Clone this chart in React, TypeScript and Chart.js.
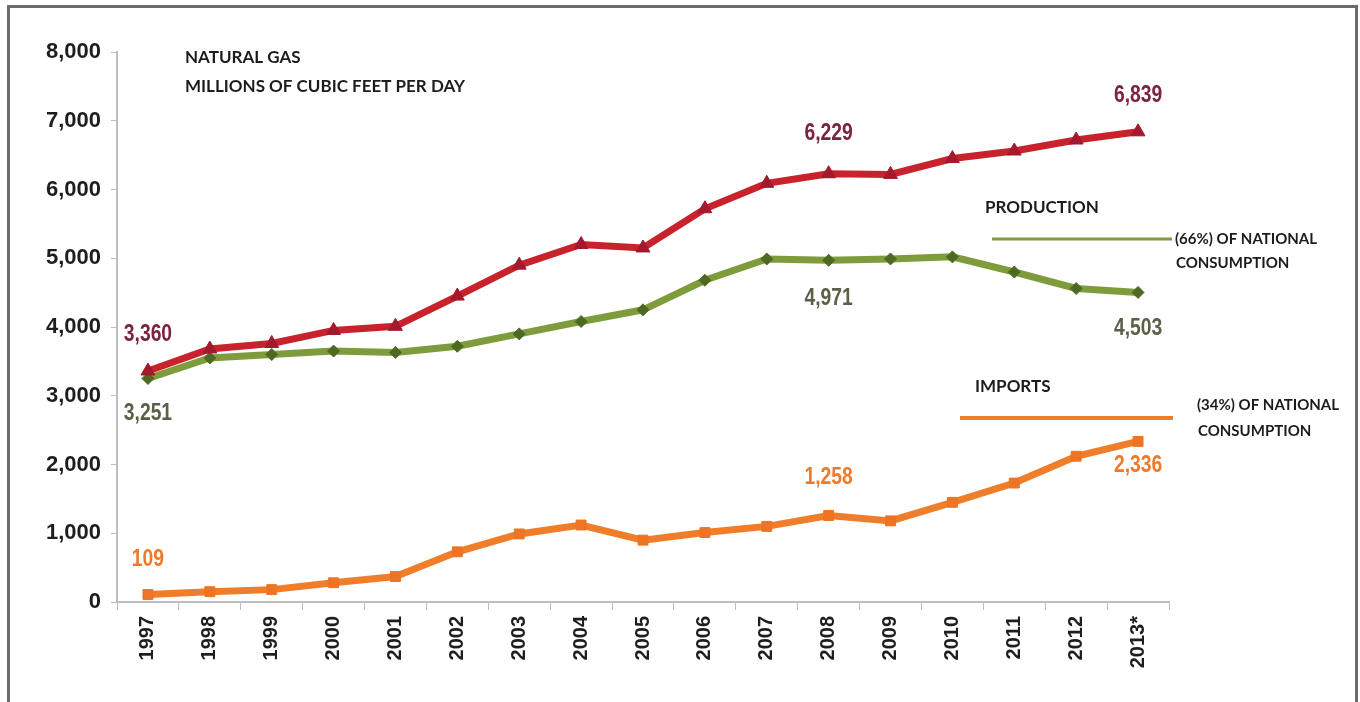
import React, { useEffect, useRef } from "react";
import { Chart, registerables } from "chart.js";

Chart.register(...registerables);

const years = ["1997", "1998", "1999", "2000", "2001", "2002", "2003", "2004", "2005", "2006", "2007", "2008", "2009", "2010", "2011", "2012", "2013*"];
const consumption = [3360, 3680, 3760, 3950, 4010, 4450, 4900, 5200, 5150, 5720, 6090, 6229, 6220, 6450, 6560, 6720, 6839];
const production = [3251, 3550, 3600, 3650, 3630, 3720, 3900, 4080, 4250, 4680, 4990, 4971, 4990, 5020, 4800, 4560, 4503];
const imports = [109, 150, 180, 280, 370, 730, 990, 1120, 900, 1010, 1100, 1258, 1180, 1450, 1730, 2120, 2336];
const labeledPoints = [0, 11, 16];
const yTicks = [0, 1000, 2000, 3000, 4000, 5000, 6000, 7000, 8000];

const titleLines = ["NATURAL GAS", "MILLIONS OF CUBIC FEET PER DAY"];
const productionNote = ["PRODUCTION", "(66%) OF NATIONAL", "CONSUMPTION"];
const importsNote = ["IMPORTS", "(34%) OF NATIONAL", "CONSUMPTION"];

// styling of the data labels for each series (offsets in px from the point)
const labelStyles = [
  { color: "#7B2340", offsets: [-36, -40, -36] },
  { color: "#5A6147", offsets: [35, 38, 36] },
  { color: "#EE7A2C", offsets: [-35, -38, 24] },
];

const dataLabelPlugin = {
  id: "dataLabels",
  afterDatasetsDraw(chart: any) {
    const ctx = chart.ctx;
    chart.data.datasets.forEach((ds: any, i: number) => {
      const meta = chart.getDatasetMeta(i);
      const st = labelStyles[i];
      labeledPoints.forEach((idx, k) => {
        const pt = meta.data[idx];
        if (!pt) return;
        const text = Number(ds.data[idx]).toLocaleString("en-US");
        ctx.save();
        ctx.translate(pt.x, pt.y + st.offsets[k]);
        ctx.scale(0.84, 1);
        ctx.font = "bold 23px 'Liberation Sans', Arial, sans-serif";
        ctx.fillStyle = st.color;
        ctx.textAlign = "center";
        ctx.textBaseline = "middle";
        ctx.fillText(text, 0, 0);
        ctx.restore();
      });
    });
  },
};

const annotationPlugin = {
  id: "notes",
  afterDraw(chart: any) {
    const ctx = chart.ctx;
    const ca = chart.chartArea;
    ctx.save();
    ctx.fillStyle = "#1c1c1c";
    ctx.textBaseline = "middle";
    ctx.textAlign = "left";
    ctx.font = "bold 17px Lato, 'Open Sans', sans-serif";
    ctx.fillText(titleLines[0], ca.left + 68, 58);
    ctx.fillText(titleLines[1], ca.left + 68, 87);

    // production note
    ctx.fillText(productionNote[0], 985, 208);
    ctx.strokeStyle = "#7F9C3D";
    ctx.lineWidth = 3;
    ctx.beginPath();
    ctx.moveTo(992, 239);
    ctx.lineTo(1172, 239);
    ctx.stroke();
    ctx.font = "bold 15px Lato, 'Open Sans', sans-serif";
    ctx.fillText(productionNote[1], 1175, 239);
    ctx.fillText(productionNote[2], 1176, 263);

    // imports note
    ctx.font = "bold 17px Lato, 'Open Sans', sans-serif";
    ctx.fillText(importsNote[0], 975, 387);
    ctx.strokeStyle = "#F07D2A";
    ctx.lineWidth = 4;
    ctx.beginPath();
    ctx.moveTo(960, 418);
    ctx.lineTo(1173, 418);
    ctx.stroke();
    ctx.font = "bold 15px Lato, 'Open Sans', sans-serif";
    ctx.fillText(importsNote[1], 1197, 405);
    ctx.fillText(importsNote[2], 1198, 431);
    ctx.restore();
  },
};

export default function App() {
  const canvasRef = useRef<HTMLCanvasElement | null>(null);

  useEffect(() => {
    if (!canvasRef.current) return;
    const axisColor = "#bdbdbd";
    const chart = new Chart(canvasRef.current, {
      type: "line",
      data: {
        labels: years,
        datasets: [
          {
            label: "Consumption",
            data: consumption,
            borderColor: "#C8232C",
            borderWidth: 7,
            pointStyle: "triangle",
            pointRadius: 8,
            pointBackgroundColor: "#A3192E",
            pointBorderColor: "#A3192E",
            pointBorderWidth: 1,
            tension: 0,
          },
          {
            label: "Production",
            data: production,
            borderColor: "#7F9C3D",
            borderWidth: 7,
            pointStyle: "rectRot",
            pointRadius: 6,
            pointBackgroundColor: "#4E6A22",
            pointBorderColor: "#4E6A22",
            pointBorderWidth: 1,
            tension: 0,
          },
          {
            label: "Imports",
            data: imports,
            borderColor: "#F07D2A",
            borderWidth: 7,
            pointStyle: "rect",
            pointRadius: 7,
            pointBackgroundColor: "#EC7424",
            pointBorderColor: "#EC7424",
            pointBorderWidth: 1,
            tension: 0,
          },
        ],
      },
      options: {
        responsive: false,
        animation: false,
        layout: { padding: { left: 10, top: 52, right: 191, bottom: 0 } },
        plugins: {
          legend: { display: false },
          tooltip: { enabled: false },
        },
        scales: {
          x: {
            type: "category",
            offset: true,
            grid: {
              display: true,
              drawOnChartArea: false,
              drawTicks: true,
              tickLength: 8,
              color: axisColor,
              offset: true,
            },
            border: { color: axisColor, width: 2 },
            ticks: {
              minRotation: 90,
              maxRotation: 90,
              padding: 6,
              color: "#1e1e1e",
              font: { family: "'Liberation Sans', Arial, sans-serif", size: 20, weight: "bold" },
            },
            afterFit: (s: any) => {
              s.height = 100;
            },
          },
          y: {
            min: 0,
            max: 8000,
            afterBuildTicks: (s: any) => {
              s.ticks = yTicks.map((v) => ({ value: v }));
            },
            ticks: {
              padding: 10,
              color: "#1e1e1e",
              font: { family: "'Liberation Sans', Arial, sans-serif", size: 22, weight: "bold" },
              callback: (v: any) => Number(v).toLocaleString("en-US"),
            },
            grid: {
              drawOnChartArea: false,
              drawTicks: true,
              tickLength: 6,
              color: axisColor,
            },
            border: { color: axisColor, width: 2 },
            afterFit: (s: any) => {
              s.width = 107;
            },
          },
        },
      },
      plugins: [dataLabelPlugin, annotationPlugin],
    } as any);
    return () => chart.destroy();
  }, []);

  return (
    <div style={{ position: "absolute", left: 0, top: 0, width: 1360, height: 702, background: "#ffffff", overflow: "hidden" }}>
      <canvas ref={canvasRef} width={1360} height={702} style={{ position: "absolute", left: 0, top: 0, width: 1360, height: 702 }} />
      <div
        style={{
          position: "absolute",
          left: 7,
          top: 5,
          width: 1351,
          height: 720,
          border: "3px solid #6b6b6b",
          boxSizing: "border-box",
          pointerEvents: "none",
        }}
      />
    </div>
  );
}
